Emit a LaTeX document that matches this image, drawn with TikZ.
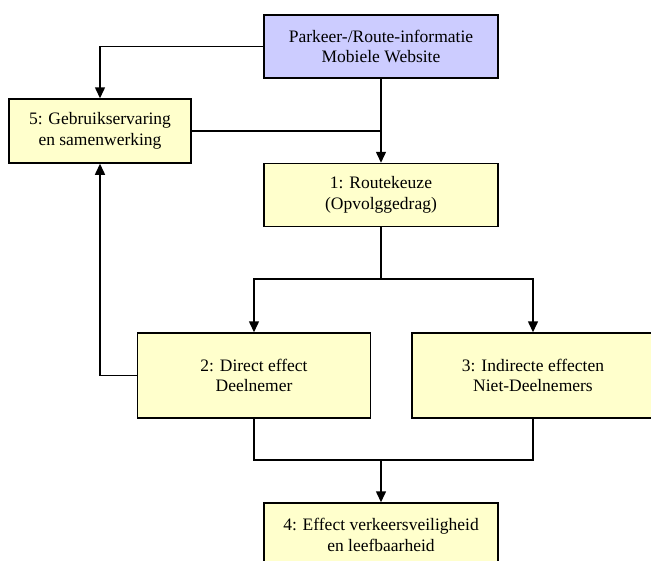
\documentclass[tikz,border=0pt]{standalone}
\usepackage{fontspec}
\setmainfont{Liberation Serif}
\usetikzlibrary{arrows.meta}
\definecolor{blauwvak}{HTML}{CCCCFF}
\definecolor{geelvak}{HTML}{FFFFCC}
\begin{document}
\begin{tikzpicture}[x=1pt,y=-1pt,line join=miter,>={Triangle[length=11pt,width=10pt]},
		line width=1.5pt,font=\fontsize{17.5}{20.6}\selectfont,
		vak/.style={draw,fill=geelvak,align=center,inner sep=0pt,minimum width=234pt,minimum height=63pt}]
			\useasboundingbox (0,0) rectangle (651,560);
			\clip (0,0) rectangle (651,560);
			
			% Boxes
			\node[vak,fill=blauwvak] (web) at (381,46.5) {Parkeer-/Route-informatie\\Mobiele Website};
			\node[vak,minimum width=182pt,minimum height=64pt] (gebruik) at (100,131) {5: Gebruikservaring\\en samenwerking};
			\node[vak] (route) at (381,195) {1: Routekeuze\\(Opvolggedrag)};
			\node[vak,minimum width=233pt,minimum height=85pt] (direct) at (254,375.5) {2: Direct effect\\Deelnemer};
			\node[vak,minimum width=242pt,minimum height=85pt] (indirect) at (533,375.5) {3: Indirecte effecten\\Niet-Deelnemers};
			\node[vak,minimum height=64pt] (effect) at (381,535) {4: Effect verkeersveiligheid\\en leefbaarheid};
			
			% Junctions
			\coordinate (splits) at (381,279);
			\coordinate (samen) at (381,460);
			
			% Connectors
			\draw[->] (web.west) -| (gebruik.north);
			\draw[->] (web) -- (route);
			\draw (gebruik.east) -- (gebruik.east -| route.north);
			\draw (route) -- (splits);
			\draw[->] (splits) -| (direct.north);
			\draw[->] (splits) -| (indirect.north);
			\draw[->] (direct.west) -| (gebruik.south);
			\draw (direct.south) |- (samen) -| (indirect.south);
			\draw[->] (samen) -- (effect);
		\end{tikzpicture}
\end{document}
